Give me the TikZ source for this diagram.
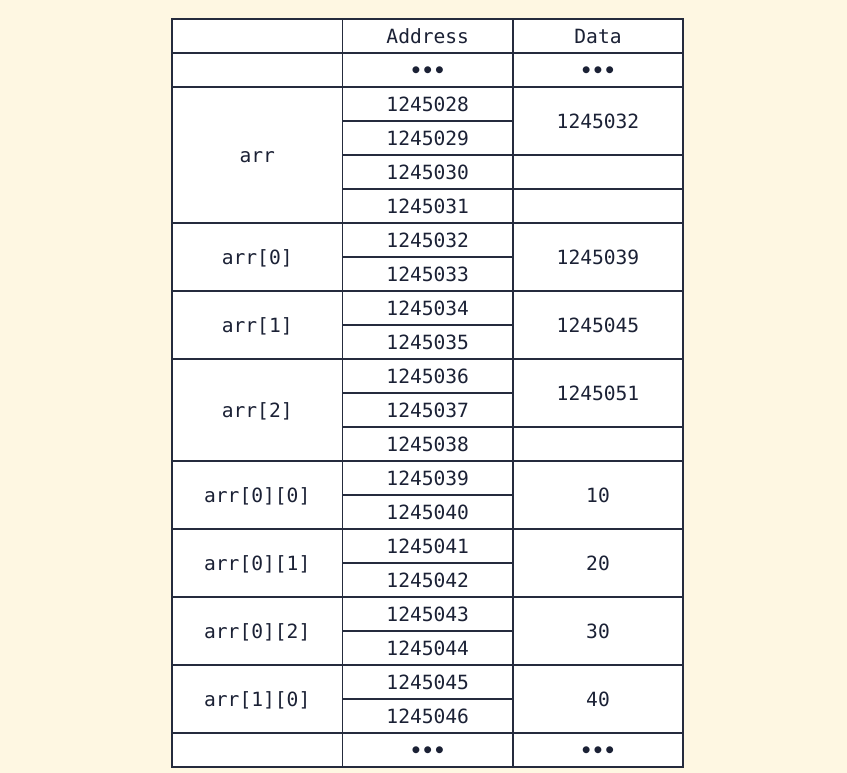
\documentclass[tikz,border=0pt]{standalone}
\usepackage{fontspec}
\setmonofont{DejaVu Sans Mono}
\definecolor{bgc}{HTML}{FEF7E2}
\definecolor{linec}{HTML}{252B3D}
\definecolor{textc}{HTML}{1B2135}
\tikzset{
  cell/.style={draw=linec, fill=white, line width=1.2pt, text=textc,
    minimum width=127.9pt, minimum height=#1*25.5pt, inner sep=0pt,
    font=\ttfamily\fontsize{14.7}{17}\selectfont,
    text height=11.6pt, text depth=0pt},
  cell/.default=1,
  dots/.style={font=\ttfamily\bfseries\fontsize{14.7}{17}\selectfont}
}
\begin{document}
\begin{tikzpicture}[x=0.75pt,y=-0.75pt]
  \fill[bgc] (0,0) rectangle (847,773);
  % header and top dots
  \draw
    (257.25,36) node[cell] (hl){}
    (427.75,36) node[cell] (ha){Address}
    (598,36) node[cell] (hd){Data}
    (257.25,70) node[cell] (tl){}
    (427.75,70) node[cell,dots] (ta){•••}
    (598,70) node[cell,dots] (td){•••};
  % names
  \draw
    (257.25,155) node[cell=4] (arr){arr}
    (257.25,257) node[cell=2] (arr0){arr[0]}
    (257.25,325) node[cell=2] (arr1){arr[1]}
    (257.25,410) node[cell=3] (arr2){arr[2]}
    (257.25,495) node[cell=2] (arr00){arr[0][0]}
    (257.25,563) node[cell=2] (arr01){arr[0][1]}
    (257.25,631) node[cell=2] (arr02){arr[0][2]}
    (257.25,699) node[cell=2] (arr10){arr[1][0]};
  % addresses
  \draw
    (427.75,104) node[cell] (a0){1245028}
    (427.75,138) node[cell] (a1){1245029}
    (427.75,172) node[cell] (a2){1245030}
    (427.75,206) node[cell] (a3){1245031}
    (427.75,240) node[cell] (a4){1245032}
    (427.75,274) node[cell] (a5){1245033}
    (427.75,308) node[cell] (a6){1245034}
    (427.75,342) node[cell] (a7){1245035}
    (427.75,376) node[cell] (a8){1245036}
    (427.75,410) node[cell] (a9){1245037}
    (427.75,444) node[cell] (a10){1245038}
    (427.75,478) node[cell] (a11){1245039}
    (427.75,512) node[cell] (a12){1245040}
    (427.75,546) node[cell] (a13){1245041}
    (427.75,580) node[cell] (a14){1245042}
    (427.75,614) node[cell] (a15){1245043}
    (427.75,648) node[cell] (a16){1245044}
    (427.75,682) node[cell] (a17){1245045}
    (427.75,716) node[cell] (a18){1245046};
  % data
  \draw
    (598,121) node[cell=2] (d0){1245032}
    (598,172) node[cell] (e2){}
    (598,206) node[cell] (e3){}
    (598,257) node[cell=2] (d4){1245039}
    (598,325) node[cell=2] (d6){1245045}
    (598,393) node[cell=2] (d8){1245051}
    (598,444) node[cell] (e10){}
    (598,495) node[cell=2] (d11){10}
    (598,563) node[cell=2] (d13){20}
    (598,631) node[cell=2] (d15){30}
    (598,699) node[cell=2] (d17){40};
  % bottom dots
  \draw
    (257.25,750) node[cell] (bl){}
    (427.75,750) node[cell,dots] (ba){•••}
    (598,750) node[cell,dots] (bd){•••};
\end{tikzpicture}
\end{document}
